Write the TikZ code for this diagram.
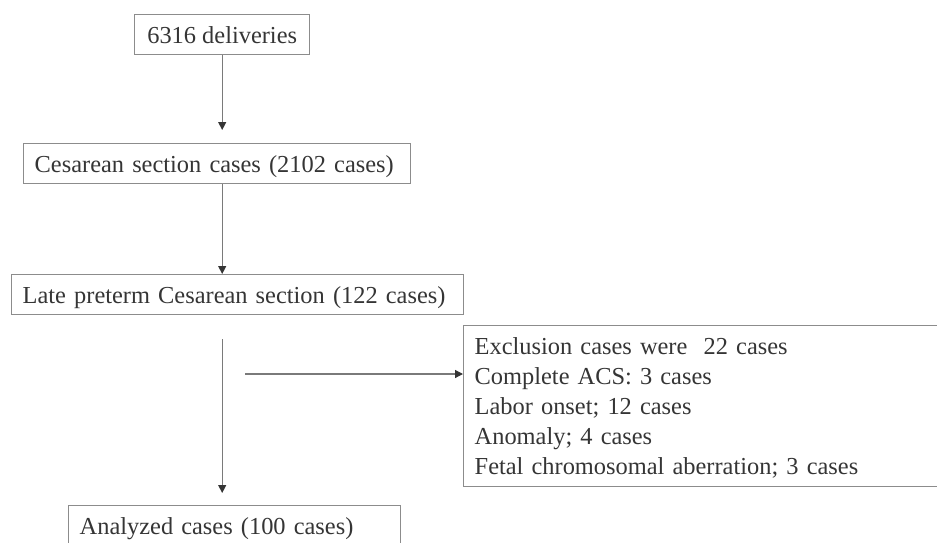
\documentclass[tikz,border=0pt]{standalone}
\usepackage{fontspec}
\setmainfont{Liberation Serif}
\usetikzlibrary{arrows.meta}
\definecolor{txt}{HTML}{353535}
\definecolor{edge}{HTML}{8C8C8C}
\definecolor{lin}{HTML}{7A7A7A}
\tikzset{
  box/.style={draw=edge, line width=0.7pt, anchor=north west, text=txt,
    font=\fontsize{12.2pt}{15pt}\selectfont, inner xsep=5.5pt, inner ysep=0pt,
    minimum height=20pt, text height=11.5pt, text depth=2.5pt, align=left},
  conn/.style={draw=lin, line width=0.6pt, -{Triangle[width=4pt,length=4pt,color=txt]}}
}
\begin{document}
\begin{tikzpicture}[x=0.5pt,y=-0.5pt]
\clip (0,0) rectangle (937,542);
\node[box, minimum width=87.5pt, align=center, inner xsep=0pt] (b1) at (134,14) {6316 deliveries};
\node[box, text width=182.5pt] (b2) at (23,143) {\mbox{Cesarean section cases (2102 cases)}};
\node[box, text width=215pt] (b3) at (11,274) {\mbox{Late preterm Cesarean section (122 cases)}};
\node[box, text width=155pt] (b4) at (68,505) {\mbox{Analyzed cases (100 cases)}};
\node[box, text width=229pt, minimum height=80.5pt, text height=, text depth=] (b5) at (463,325)
  {\rule{0pt}{10pt}Exclusion cases were\ \ 22 cases\\
   Complete ACS: 3 cases\\
   Labor onset; 12 cases\\
   Anomaly; 4 cases\\
   Fetal chromosomal aberration; 3 cases};
\coordinate (h) at (245,374);
\draw[conn, shorten >=6.5pt] (b1.south) -- (b1.south |- b2.north);
\draw[conn] (b1.south |- b2.south) -- (b1.south |- b3.north);
\draw[conn, shorten <=12pt, shorten >=6pt] (b1.south |- b3.south) -- (b1.south |- b4.north);
\draw[conn] (h) -- (h -| b5.west);
\end{tikzpicture}
\end{document}
